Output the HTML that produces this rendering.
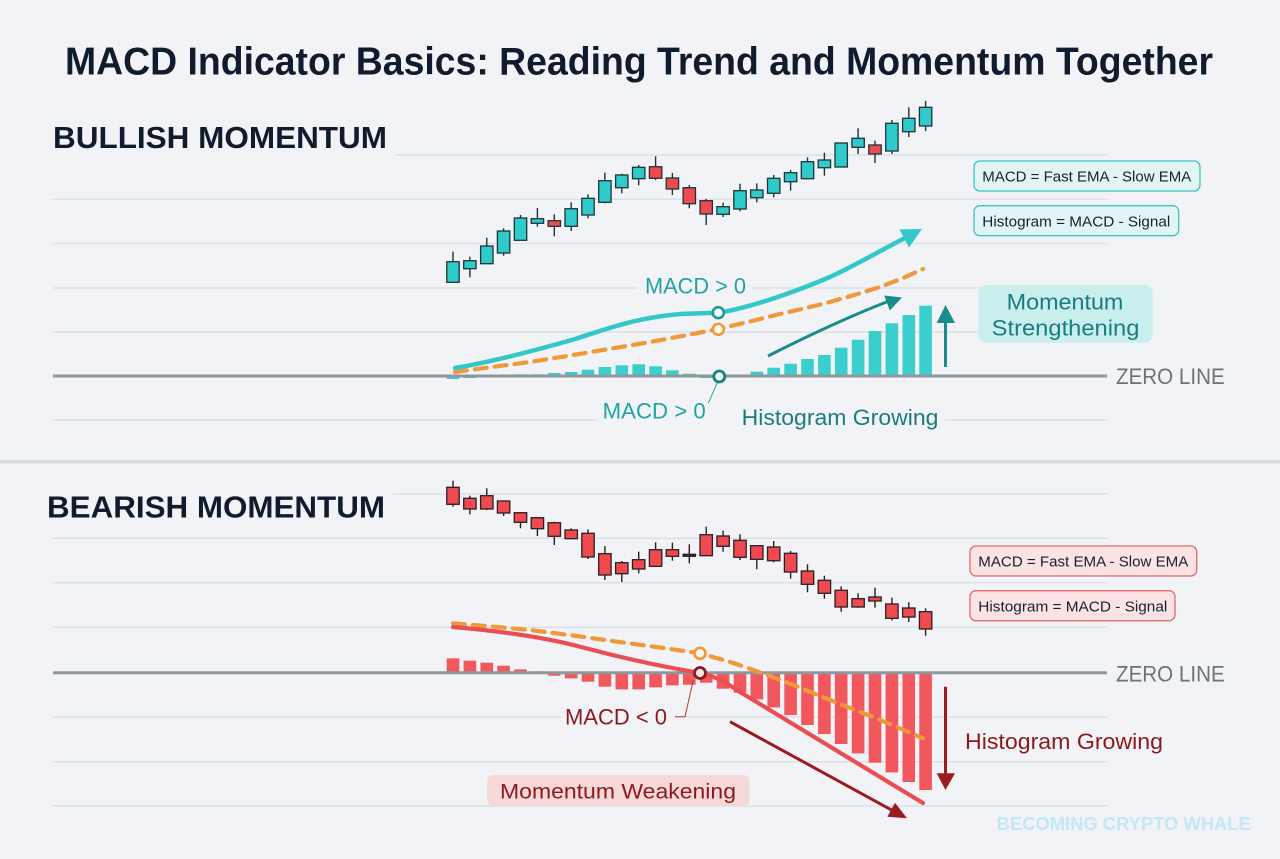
<!DOCTYPE html>
<html><head><meta charset="utf-8"><style>
html,body{margin:0;padding:0;background:#f1f3f6;}
svg{display:block;}
text{font-family:"Liberation Sans",Arial,sans-serif;}
</style></head><body>
<svg width="1280" height="859" viewBox="0 0 1280 859" xmlns="http://www.w3.org/2000/svg">
<rect width="1280" height="859" fill="#f1f3f6"/>
<!-- Title -->
<text x="65" y="74.3" font-size="39" font-weight="bold" fill="#101b2d" textLength="1148" lengthAdjust="spacingAndGlyphs">MACD Indicator Basics: Reading Trend and Momentum Together</text>
<text x="53" y="148" font-size="30.5" font-weight="bold" fill="#101b2d" textLength="334" lengthAdjust="spacingAndGlyphs">BULLISH MOMENTUM</text>
<text x="47" y="517.5" font-size="30.5" font-weight="bold" fill="#101b2d" textLength="338" lengthAdjust="spacingAndGlyphs">BEARISH MOMENTUM</text>

<!-- separator -->
<rect x="0" y="460.3" width="1280" height="3" fill="#d3d8de"/>

<!-- grid top -->
<g stroke="#dce0e5" stroke-width="1.5">
<line x1="395" y1="155" x2="1107" y2="155"/>
<line x1="53" y1="199.3" x2="1107" y2="199.3"/>
<line x1="53" y1="243.6" x2="1107" y2="243.6"/>
<line x1="53" y1="288" x2="1107" y2="288"/>
<line x1="53" y1="332" x2="1107" y2="332"/>
<line x1="53" y1="420" x2="1107" y2="420"/>
<line x1="393" y1="494" x2="1107" y2="494"/>
<line x1="53" y1="538.3" x2="1107" y2="538.3"/>
<line x1="53" y1="582.7" x2="1107" y2="582.7"/>
<line x1="53" y1="627.3" x2="1107" y2="627.3"/>
<line x1="53" y1="717" x2="1107" y2="717"/>
<line x1="53" y1="761.7" x2="1107" y2="761.7"/>
<line x1="53" y1="806" x2="1107" y2="806"/>
</g>

<!-- label backgrounds covering gridlines -->
<g fill="#f1f3f6">
<rect x="637" y="280" width="115" height="16"/>
<rect x="597" y="412" width="138" height="16"/>
<rect x="735" y="412" width="210" height="16"/>
<rect x="562" y="709" width="113" height="16"/>
</g>

<!-- Bull candles -->
<g stroke="#1d3438" stroke-width="1.4">
<line x1="453" y1="251.7" x2="453" y2="282.3"/>
<line x1="469.9" y1="256.7" x2="469.9" y2="277.3"/>
<line x1="486.8" y1="237.7" x2="486.8" y2="263.7"/>
<line x1="503.6" y1="228.3" x2="503.6" y2="255.7"/>
<line x1="520.5" y1="215" x2="520.5" y2="240.3"/>
<line x1="537.4" y1="208" x2="537.4" y2="226.7"/>
<line x1="554.3" y1="214.3" x2="554.3" y2="236.3"/>
<line x1="571.2" y1="202.3" x2="571.2" y2="231"/>
<line x1="588" y1="194.3" x2="588" y2="218.3"/>
<line x1="604.9" y1="172.7" x2="604.9" y2="203.3"/>
<line x1="621.8" y1="173.7" x2="621.8" y2="193.3"/>
<line x1="638.7" y1="165" x2="638.7" y2="185.3"/>
<line x1="655.6" y1="156.3" x2="655.6" y2="180"/>
<line x1="672.4" y1="173" x2="672.4" y2="195"/>
<line x1="689.3" y1="185" x2="689.3" y2="208.3"/>
<line x1="706.2" y1="199" x2="706.2" y2="225"/>
<line x1="723.1" y1="202.7" x2="723.1" y2="217"/>
<line x1="740" y1="183.7" x2="740" y2="211.3"/>
<line x1="756.8" y1="183.3" x2="756.8" y2="202.3"/>
<line x1="773.7" y1="175" x2="773.7" y2="197.3"/>
<line x1="790.6" y1="170" x2="790.6" y2="190.7"/>
<line x1="807.5" y1="157.3" x2="807.5" y2="179.3"/>
<line x1="824.4" y1="152.7" x2="824.4" y2="175.7"/>
<line x1="841.2" y1="143" x2="841.2" y2="167"/>
<line x1="858.1" y1="128.3" x2="858.1" y2="154"/>
<line x1="875" y1="140.7" x2="875" y2="163"/>
<line x1="891.9" y1="120" x2="891.9" y2="154"/>
<line x1="908.8" y1="107.3" x2="908.8" y2="137"/>
<line x1="925.6" y1="101" x2="925.6" y2="131"/>
</g>
<g stroke="#1d3438" stroke-width="1.3">
<rect x="446.8" y="261.7" width="12.4" height="20.6" fill="#2fcaca"/>
<rect x="463.7" y="260.7" width="12.4" height="8" fill="#2fcaca"/>
<rect x="480.6" y="246" width="12.4" height="17.7" fill="#2fcaca"/>
<rect x="497.4" y="231" width="12.4" height="22" fill="#2fcaca"/>
<rect x="514.3" y="218" width="12.4" height="22.3" fill="#2fcaca"/>
<rect x="531.2" y="218.7" width="12.4" height="4.6" fill="#2fcaca"/>
<rect x="548.1" y="220.7" width="12.4" height="5.6" fill="#ef4a50"/>
<rect x="565" y="208.7" width="12.4" height="17.6" fill="#2fcaca"/>
<rect x="581.8" y="198.3" width="12.4" height="16.7" fill="#2fcaca"/>
<rect x="598.7" y="180.7" width="12.4" height="21.6" fill="#2fcaca"/>
<rect x="615.6" y="175" width="12.4" height="12.7" fill="#2fcaca"/>
<rect x="632.5" y="167.3" width="12.4" height="11.4" fill="#2fcaca"/>
<rect x="649.4" y="166.7" width="12.4" height="11.6" fill="#ef4a50"/>
<rect x="666.2" y="178" width="12.4" height="11" fill="#ef4a50"/>
<rect x="683.1" y="187.7" width="12.4" height="16" fill="#ef4a50"/>
<rect x="700" y="200.7" width="12.4" height="13.3" fill="#ef4a50"/>
<rect x="716.9" y="206.7" width="12.4" height="7.6" fill="#2fcaca"/>
<rect x="733.8" y="190.7" width="12.4" height="18.3" fill="#2fcaca"/>
<rect x="750.6" y="190" width="12.4" height="7.7" fill="#2fcaca"/>
<rect x="767.5" y="178.3" width="12.4" height="15" fill="#2fcaca"/>
<rect x="784.4" y="172.7" width="12.4" height="9" fill="#2fcaca"/>
<rect x="801.3" y="161.7" width="12.4" height="17" fill="#2fcaca"/>
<rect x="818.2" y="160" width="12.4" height="7.7" fill="#2fcaca"/>
<rect x="835" y="143" width="12.4" height="24" fill="#2fcaca"/>
<rect x="851.9" y="138.3" width="12.4" height="9" fill="#2fcaca"/>
<rect x="868.8" y="145" width="12.4" height="9" fill="#ef4a50"/>
<rect x="885.7" y="123.3" width="12.4" height="27.7" fill="#2fcaca"/>
<rect x="902.6" y="118.3" width="12.4" height="13.4" fill="#2fcaca"/>
<rect x="919.4" y="107.3" width="12.4" height="18.7" fill="#2fcaca"/>
</g>

<!-- Bull histogram -->
<g fill="#3acfcd">
<rect x="446.7" y="376" width="12.6" height="3"/>
<rect x="463.6" y="376" width="12.6" height="2"/>
<rect x="480.5" y="375" width="12.6" height="1"/>
<rect x="497.3" y="375" width="12.6" height="1"/>
<rect x="514.2" y="374.3" width="12.6" height="1.7"/>
<rect x="531.1" y="374.3" width="12.6" height="1.7"/>
<rect x="548" y="373" width="12.6" height="3"/>
<rect x="564.9" y="372" width="12.6" height="4"/>
<rect x="581.7" y="369.7" width="12.6" height="6.3"/>
<rect x="598.6" y="367" width="12.6" height="9"/>
<rect x="615.5" y="365.3" width="12.6" height="10.7"/>
<rect x="632.4" y="364.3" width="12.6" height="11.7"/>
<rect x="649.3" y="366.3" width="12.6" height="9.7"/>
<rect x="666.1" y="370.3" width="12.6" height="5.7"/>
<rect x="683" y="373.7" width="12.6" height="2.3"/>
<rect x="699.9" y="376" width="12.6" height="2"/>
<rect x="733.7" y="374.7" width="12.6" height="1.3"/>
<rect x="750.5" y="371.7" width="12.6" height="4.3"/>
<rect x="767.4" y="367.7" width="12.6" height="8.3"/>
<rect x="784.3" y="363.7" width="12.6" height="12.3"/>
<rect x="801.2" y="359" width="12.6" height="17"/>
<rect x="818.1" y="355" width="12.6" height="21"/>
<rect x="834.9" y="347.7" width="12.6" height="28.3"/>
<rect x="851.8" y="339.7" width="12.6" height="36.3"/>
<rect x="868.7" y="331" width="12.6" height="45"/>
<rect x="885.6" y="323.3" width="12.6" height="52.7"/>
<rect x="902.5" y="315" width="12.6" height="61"/>
<rect x="919.3" y="305.7" width="12.6" height="70.3"/>
</g>
<!-- Zero line top -->
<line x1="53" y1="376" x2="1107" y2="376" stroke="#8f979d" stroke-width="3"/>

<!-- Bull lines -->
<polyline points="455,372 492,367 530,362 573,355 612,348.5 650,342 685,335.5 718,329 750,321.5 780,314 806,308 830,302 856,294.5 880,287 902,278.5 923,269" fill="none" stroke="#f0993a" stroke-width="4.2" stroke-dasharray="12 8" stroke-linecap="round"/>
<path d="M455 368 C 490 362, 530 352, 575 339 C 610 328, 635 318, 680 314 C 700 313, 712 313, 718 312.7 C 745 309, 790 294, 830 277 C 860 263, 885 248, 905 238" fill="none" stroke="#33c8c8" stroke-width="4.5" stroke-linecap="round"/>
<polygon points="899.5,229.4 922,229 909,247.5" fill="#33c8c8"/>
<!-- connector -->
<line x1="708.3" y1="403.3" x2="717.3" y2="382.5" stroke="#2aa8a8" stroke-width="1"/>
<!-- markers -->
<circle cx="718.3" cy="312.7" r="5.5" fill="#f6fbfb" stroke="#1f9a9a" stroke-width="2.6"/>
<circle cx="718.3" cy="329.3" r="5.5" fill="#fbf6ef" stroke="#f0993a" stroke-width="2.6"/>
<circle cx="719.3" cy="376.5" r="5.5" fill="#f3f6f7" stroke="#177f80" stroke-width="2.8"/>

<!-- Histogram arrow (teal) -->
<path d="M768 356 Q 835 322 889 301" fill="none" stroke="#1a8c8c" stroke-width="3"/>
<polygon points="902,297.5 889.8,310.5 884.2,295.5" fill="#1a8c8c"/>
<!-- vertical up arrow -->
<line x1="945.5" y1="367" x2="945.5" y2="320" stroke="#1a8c8c" stroke-width="3"/>
<polygon points="936.7,323 955,323 945.5,305" fill="#1a8c8c"/>

<!-- Bull labels -->
<text x="645" y="293.3" font-size="22" fill="#22a3a3" textLength="101" lengthAdjust="spacingAndGlyphs">MACD &gt; 0</text>
<text x="602.7" y="418.3" font-size="22" fill="#22a3a3" textLength="103" lengthAdjust="spacingAndGlyphs">MACD &gt; 0</text>
<text x="741.7" y="425" font-size="22" fill="#1b7c7f" textLength="196.7" lengthAdjust="spacingAndGlyphs">Histogram Growing</text>

<!-- Legend boxes top -->
<rect x="974" y="161" width="226" height="30" rx="6" fill="#e2f5f5" stroke="#3cc3c3" stroke-width="1.3"/>
<text x="982.3" y="181.7" font-size="15" fill="#16222d" textLength="209" lengthAdjust="spacingAndGlyphs">MACD = Fast EMA - Slow EMA</text>
<rect x="974" y="205.7" width="204.7" height="30" rx="6" fill="#e2f5f5" stroke="#3cc3c3" stroke-width="1.3"/>
<text x="982.3" y="226.3" font-size="15" fill="#16222d" textLength="188" lengthAdjust="spacingAndGlyphs">Histogram = MACD - Signal</text>

<!-- Momentum Strengthening -->
<rect x="978.3" y="285" width="174.4" height="57.7" rx="8" fill="#c9eeee"/>
<text x="1006.7" y="309.3" font-size="22" fill="#1b7c7f" textLength="116.7" lengthAdjust="spacingAndGlyphs">Momentum</text>
<text x="991.7" y="335.3" font-size="22" fill="#1b7c7f" textLength="147.7" lengthAdjust="spacingAndGlyphs">Strengthening</text>

<text x="1116" y="384" font-size="22" fill="#6b7379" textLength="108.7" lengthAdjust="spacingAndGlyphs">ZERO LINE</text>

<!-- Bear candles -->
<g stroke="#2a1f22" stroke-width="1.4">
<line x1="453" y1="480.7" x2="453" y2="506.7"/>
<line x1="469.9" y1="495.7" x2="469.9" y2="514.3"/>
<line x1="486.8" y1="488.3" x2="486.8" y2="510"/>
<line x1="503.6" y1="501" x2="503.6" y2="516"/>
<line x1="520.5" y1="512.7" x2="520.5" y2="528.3"/>
<line x1="537.4" y1="517.7" x2="537.4" y2="536"/>
<line x1="554.3" y1="521.7" x2="554.3" y2="545"/>
<line x1="571.2" y1="528.3" x2="571.2" y2="538.7"/>
<line x1="588" y1="529.3" x2="588" y2="559"/>
<line x1="604.9" y1="546" x2="604.9" y2="580"/>
<line x1="621.8" y1="561" x2="621.8" y2="582"/>
<line x1="638.7" y1="551.7" x2="638.7" y2="573.3"/>
<line x1="655.6" y1="542.3" x2="655.6" y2="566.3"/>
<line x1="672.4" y1="542.7" x2="672.4" y2="560.7"/>
<line x1="689.3" y1="544.3" x2="689.3" y2="563.3"/>
<line x1="706.2" y1="526.7" x2="706.2" y2="555.7"/>
<line x1="723.1" y1="530.7" x2="723.1" y2="551.7"/>
<line x1="740" y1="534.3" x2="740" y2="560"/>
<line x1="756.8" y1="545" x2="756.8" y2="569.3"/>
<line x1="773.7" y1="541" x2="773.7" y2="562.3"/>
<line x1="790.6" y1="551" x2="790.6" y2="578.7"/>
<line x1="807.5" y1="564.3" x2="807.5" y2="592.3"/>
<line x1="824.4" y1="575.7" x2="824.4" y2="598.7"/>
<line x1="841.2" y1="586.3" x2="841.2" y2="611.7"/>
<line x1="858.1" y1="593.3" x2="858.1" y2="607.7"/>
<line x1="875" y1="587.7" x2="875" y2="607.7"/>
<line x1="891.9" y1="597.7" x2="891.9" y2="620.3"/>
<line x1="908.8" y1="602.3" x2="908.8" y2="622"/>
<line x1="925.6" y1="608.3" x2="925.6" y2="635.7"/>
</g>
<g stroke="#2a1f22" stroke-width="1.3" fill="#ef4a50">
<rect x="446.8" y="487.3" width="12.4" height="17"/>
<rect x="463.7" y="498.3" width="12.4" height="10.7"/>
<rect x="480.6" y="495.7" width="12.4" height="13.3"/>
<rect x="497.4" y="501" width="12.4" height="12"/>
<rect x="514.3" y="512.7" width="12.4" height="9.6"/>
<rect x="531.2" y="517.7" width="12.4" height="11"/>
<rect x="548.1" y="522.7" width="12.4" height="13.6"/>
<rect x="565" y="530" width="12.4" height="8.7"/>
<rect x="581.8" y="533.3" width="12.4" height="23.7"/>
<rect x="598.7" y="553.7" width="12.4" height="21.3"/>
<rect x="615.6" y="562.7" width="12.4" height="11"/>
<rect x="632.5" y="559.7" width="12.4" height="9.3"/>
<rect x="649.4" y="549.7" width="12.4" height="16.6"/>
<rect x="666.2" y="549.7" width="12.4" height="6.6"/>
<rect x="683.1" y="554.3" width="12.4" height="2" fill="#2a3240"/>
<rect x="700" y="534.7" width="12.4" height="21"/>
<rect x="716.9" y="536" width="12.4" height="10.3"/>
<rect x="733.8" y="540.3" width="12.4" height="17"/>
<rect x="750.6" y="545.7" width="12.4" height="13.6"/>
<rect x="767.5" y="547" width="12.4" height="13.7"/>
<rect x="784.4" y="553.3" width="12.4" height="18.7"/>
<rect x="801.3" y="571" width="12.4" height="13.3"/>
<rect x="818.2" y="580.3" width="12.4" height="13"/>
<rect x="835" y="590.3" width="12.4" height="16.7"/>
<rect x="851.9" y="598.7" width="12.4" height="8.3"/>
<rect x="868.8" y="597" width="12.4" height="4"/>
<rect x="885.7" y="604" width="12.4" height="14.3"/>
<rect x="902.6" y="608" width="12.4" height="9"/>
<rect x="919.4" y="611.7" width="12.4" height="17.3"/>
</g>

<!-- Bear histogram -->
<g fill="#f0585e">
<rect x="446.7" y="658.4" width="12.6" height="14.3"/>
<rect x="463.6" y="660.7" width="12.6" height="12"/>
<rect x="480.5" y="662.7" width="12.6" height="10"/>
<rect x="497.3" y="665.7" width="12.6" height="7"/>
<rect x="514.2" y="669.4" width="12.6" height="3.3"/>
<rect x="531.1" y="671.4" width="12.6" height="1.3"/>
<rect x="548" y="672.7" width="12.6" height="3"/>
<rect x="564.9" y="672.7" width="12.6" height="5.7"/>
<rect x="581.7" y="672.7" width="12.6" height="9"/>
<rect x="598.6" y="672.7" width="12.6" height="14"/>
<rect x="615.5" y="672.7" width="12.6" height="16.7"/>
<rect x="632.4" y="672.7" width="12.6" height="16.7"/>
<rect x="649.3" y="672.7" width="12.6" height="14.7"/>
<rect x="666.1" y="672.7" width="12.6" height="12.7"/>
<rect x="683" y="672.7" width="12.6" height="12"/>
<rect x="699.9" y="672.7" width="12.6" height="10"/>
<rect x="716.8" y="672.7" width="12.6" height="16"/>
<rect x="733.7" y="672.7" width="12.6" height="20"/>
<rect x="750.5" y="672.7" width="12.6" height="26.7"/>
<rect x="767.4" y="672.7" width="12.6" height="34.7"/>
<rect x="784.3" y="672.7" width="12.6" height="42.3"/>
<rect x="801.2" y="672.7" width="12.6" height="52.3"/>
<rect x="818.1" y="672.7" width="12.6" height="61.3"/>
<rect x="834.9" y="672.7" width="12.6" height="71.3"/>
<rect x="851.8" y="672.7" width="12.6" height="80.7"/>
<rect x="868.7" y="672.7" width="12.6" height="90"/>
<rect x="885.6" y="672.7" width="12.6" height="99.7"/>
<rect x="902.5" y="672.7" width="12.6" height="109.3"/>
<rect x="919.3" y="672.7" width="12.6" height="117.3"/>
</g>
<line x1="53" y1="672.7" x2="1107" y2="672.7" stroke="#8f979d" stroke-width="3"/>

<!-- Bear lines -->
<polyline points="453,623.3 492,626.5 530,630 573,635.5 617,641.7 660,647.5 700,653.3 732,662.5 763,673.3 797,686.5 830,700 878,719 923,738.3" fill="none" stroke="#f0993a" stroke-width="4.2" stroke-dasharray="12 8" stroke-linecap="round"/>
<path d="M453 627 C 500 631, 545 637, 585 648 C 630 660, 670 668, 700 673 C 715 676, 725 682, 740 692 C 790 722, 860 765, 923 803" fill="none" stroke="#eb4d54" stroke-width="4.2" stroke-linecap="round"/>
<!-- connector -->
<polyline points="693.3,680 685,716.7 675,716.7" fill="none" stroke="#b43a40" stroke-width="1"/>
<circle cx="700" cy="653.3" r="5.5" fill="#fbf6ef" stroke="#f0993a" stroke-width="2.6"/>
<circle cx="700" cy="673" r="5.5" fill="#f3e6e6" stroke="#8b1a1f" stroke-width="2.8"/>

<!-- dark red diagonal arrow -->
<line x1="730" y1="721.7" x2="893" y2="810.8" stroke="#9a1b22" stroke-width="3"/>
<polygon points="907,818.3 887.4,816.7 895,802.7" fill="#9a1b22"/>
<!-- vertical down arrow -->
<line x1="945.5" y1="686.7" x2="945.5" y2="776" stroke="#9a1b22" stroke-width="3"/>
<polygon points="936.7,773.3 955,773.3 945.5,790" fill="#9a1b22"/>

<!-- Bear labels -->
<text x="565" y="724.3" font-size="22" fill="#8b1a1f" textLength="102" lengthAdjust="spacingAndGlyphs">MACD &lt; 0</text>
<text x="965" y="749" font-size="22" fill="#8b1a1f" textLength="198" lengthAdjust="spacingAndGlyphs">Histogram Growing</text>
<rect x="487.3" y="775" width="262" height="31" rx="6" fill="#f6d8d8"/>
<text x="500" y="798.3" font-size="21" fill="#8b1a1f" textLength="236" lengthAdjust="spacingAndGlyphs">Momentum Weakening</text>

<!-- Legend boxes bottom -->
<rect x="970" y="546" width="226.7" height="30" rx="6" fill="#fbe3e3" stroke="#e06a6a" stroke-width="1.3"/>
<text x="978.3" y="566.7" font-size="15" fill="#16222d" textLength="210" lengthAdjust="spacingAndGlyphs">MACD = Fast EMA - Slow EMA</text>
<rect x="970" y="590.7" width="205" height="30" rx="6" fill="#fbe3e3" stroke="#e06a6a" stroke-width="1.3"/>
<text x="978.3" y="611.7" font-size="15" fill="#16222d" textLength="189" lengthAdjust="spacingAndGlyphs">Histogram = MACD - Signal</text>

<text x="1116" y="681.7" font-size="22" fill="#6b7379" textLength="108.7" lengthAdjust="spacingAndGlyphs">ZERO LINE</text>

<!-- watermark -->
<text x="996.7" y="830" font-size="18" font-weight="bold" fill="#c2e7f5" textLength="254" lengthAdjust="spacingAndGlyphs">BECOMING CRYPTO WHALE</text>
</svg>
</body></html>
